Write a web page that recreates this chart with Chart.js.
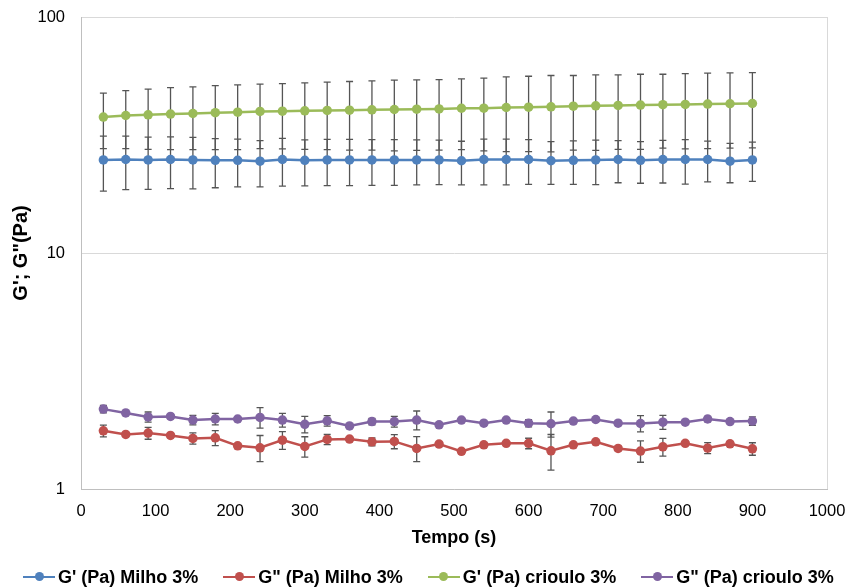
<!DOCTYPE html>
<html>
<head>
<meta charset="utf-8">
<script src="https://cdn.jsdelivr.net/npm/chart.js@4.4.1/dist/chart.umd.min.js"></script>
<style>
  html, body { margin: 0; padding: 0; background: #fff; }
  #wrap { position: relative; width: 850px; height: 587px; overflow: hidden; }
  #c { position: absolute; left: 0; top: 0; }
  #legend { position: absolute; left: 23px; top: 566px; height: 22px; display: flex; align-items: center;
            font-family: 'Liberation Sans', Arial, sans-serif; font-weight: bold; font-size: 18px; color: #000; white-space: nowrap; }
  .item { display: flex; align-items: center; margin-right: 25px; }
  .mk { position: relative; width: 32px; height: 3px; margin-right: 3px; }
  .mk .ln { position: absolute; left: 0; top: 0; width: 32px; height: 2.5px; }
  .mk .dt { position: absolute; left: 11.5px; top: -3.5px; width: 9px; height: 9px; border-radius: 50%; }
</style>
</head>
<body>
<div id="wrap">
  <canvas id="c" width="850" height="587"></canvas>
  <div id="legend"></div>
</div>
<script>
// ---- data ----
const times = [30, 60, 90, 120, 150, 180, 210, 240, 270, 300, 330, 360, 390, 420, 450,
               480, 510, 540, 570, 600, 630, 660, 690, 720, 750, 780, 810, 840, 870, 900];

const seriesLabels = ["G' (Pa) Milho 3%", 'G" (Pa) Milho 3%', "G' (Pa) crioulo 3%", 'G" (Pa) crioulo 3%'];

const gLinhaMilho = [24.8, 24.9, 24.8, 24.9, 24.8, 24.7, 24.7, 24.5, 24.9, 24.7, 24.8, 24.8, 24.8, 24.8, 24.8,
                     24.8, 24.6, 24.9, 24.9, 24.9, 24.6, 24.7, 24.8, 24.9, 24.7, 24.9, 24.9, 24.9, 24.5, 24.8];
const gLinhaMilhoErr = [6.5, 6.35, 6.2, 6.15, 6.1, 5.8, 5.65, 5.45, 5.7, 5.45, 5.5, 5.5, 5.45, 5.45, 5.35,
                        5.3, 5.15, 5.45, 5.45, 5.35, 5.05, 5.15, 5.3, 5.05, 4.95, 5.1, 5.3, 4.9, 4.65, 4.7];

const gDuasMilho = [1.764, 1.703, 1.725, 1.687, 1.638, 1.648, 1.524, 1.495, 1.611, 1.515, 1.622, 1.627, 1.585, 1.591, 1.486,
                    1.550, 1.444, 1.539, 1.561, 1.561, 1.452, 1.539, 1.585, 1.486, 1.448, 1.509, 1.561, 1.491, 1.554, 1.480];
const gDuasMilhoErr = [0.1, 0.03, 0.1, 0.03, 0.09, 0.12, 0.03, 0.19, 0.14, 0.15, 0.08, 0.03, 0.06, 0.11, 0.18,
                       0.03, 0.03, 0.03, 0.03, 0.08, 0.25, 0.03, 0.03, 0.03, 0.15, 0.13, 0.03, 0.08, 0.03, 0.09];

const gLinhaCrioulo = [37.65, 38.25, 38.5, 38.8, 39.0, 39.3, 39.5, 39.8, 39.9, 40.05, 40.2, 40.3, 40.45, 40.55, 40.7,
                       40.8, 41.05, 41.1, 41.35, 41.5, 41.65, 41.9, 42.05, 42.2, 42.35, 42.5, 42.6, 42.75, 42.9, 43.0];
const gLinhaCriouloErr = [9.95, 10.55, 11.0, 11.4, 11.6, 11.9, 12.1, 12.1, 12.3, 12.55, 12.8, 13.0, 13.15, 13.45, 13.5,
                          13.5, 13.65, 14.0, 14.45, 14.6, 14.85, 14.6, 14.85, 14.7, 14.85, 14.7, 15.0, 15.05, 15.1, 15.1];

const gDuasCrioulo = [2.18, 2.10, 2.02, 2.03, 1.96, 1.98, 1.98, 2.01, 1.96, 1.88, 1.945, 1.85, 1.93, 1.93, 1.96,
                      1.87, 1.96, 1.90, 1.96, 1.90, 1.89, 1.94, 1.97, 1.90, 1.895, 1.92, 1.92, 1.98, 1.93, 1.94];
const gDuasCriouloErr = [0.08, 0.03, 0.1, 0.03, 0.09, 0.11, 0.03, 0.2, 0.13, 0.15, 0.1, 0.03, 0.06, 0.1, 0.18,
                         0.03, 0.03, 0.03, 0.03, 0.065, 0.23, 0.03, 0.03, 0.03, 0.15, 0.13, 0.03, 0.05, 0.03, 0.08];

const yTicks = [1, 10, 100];
const xTitle = 'Tempo (s)';
const yTitle = 'G\'; G"(Pa)';

// ---- styling ----
const colors = ['#4F81BD', '#C0504D', '#9BBB59', '#8064A2'];
const values = [gLinhaMilho, gDuasMilho, gLinhaCrioulo, gDuasCrioulo];
const errors = [gLinhaMilhoErr, gDuasMilhoErr, gLinhaCriouloErr, gDuasCriouloErr];
const FONT = "'Liberation Sans', Arial, sans-serif";

const datasets = values.map((vals, i) => ({
  label: seriesLabels[i],
  data: times.map((t, j) => ({ x: t, y: vals[j] })),
  errors: errors[i],
  borderColor: colors[i],
  backgroundColor: colors[i],
  borderWidth: 2.5,
  pointRadius: 4.75,
  pointBorderWidth: 0,
  pointBackgroundColor: colors[i],
  tension: 0,
  fill: false
}));

const errorBars = {
  id: 'errorBars',
  beforeDatasetsDraw(chart) {
    const { ctx, scales: { x, y } } = chart;
    ctx.save();
    ctx.strokeStyle = '#555555';
    ctx.lineWidth = 1.3;
    chart.data.datasets.forEach((ds) => {
      ds.data.forEach((p, j) => {
        const e = ds.errors[j];
        const px = x.getPixelForValue(p.x);
        const yt = y.getPixelForValue(p.y + e);
        const yb = y.getPixelForValue(p.y - e);
        ctx.beginPath();
        ctx.moveTo(px, yt); ctx.lineTo(px, yb);
        ctx.moveTo(px - 3.5, yt); ctx.lineTo(px + 3.5, yt);
        ctx.moveTo(px - 3.5, yb); ctx.lineTo(px + 3.5, yb);
        ctx.stroke();
      });
    });
    ctx.restore();
  }
};

new Chart(document.getElementById('c'), {
  type: 'line',
  data: { datasets },
  plugins: [errorBars],
  options: {
    responsive: false,
    animation: false,
    devicePixelRatio: 1,
    layout: { padding: { left: 5, right: 23, top: 17, bottom: 34 } },
    plugins: { legend: { display: false }, tooltip: { enabled: false } },
    scales: {
      x: {
        type: 'linear', min: 0, max: 1000,
        ticks: { stepSize: 100, padding: 13, color: '#000', maxRotation: 0, font: { family: FONT, size: 16.5 },
                 callback: (v) => String(v) },
        grid: { drawTicks: false, lineWidth: 1,
                color: (c) => (c.tick && c.tick.value === 1000 ? '#d9d9d9' : 'rgba(0,0,0,0)') },
        border: { color: '#bfbfbf', width: 1 },
        title: { display: true, text: xTitle, color: '#000', font: { family: FONT, size: 18, weight: 'bold' }, padding: { top: 4, bottom: 4 } },
        afterFit(s) { s.height = 64; s.paddingLeft = 0; s.paddingRight = 0; }
      },
      y: {
        type: 'logarithmic', min: 1, max: 100,
        afterBuildTicks(s) { s.ticks = yTicks.map(v => ({ value: v })); },
        ticks: { padding: 16, color: '#000', font: { family: FONT, size: 16.5 }, callback: (v) => String(v) },
        grid: { drawTicks: false, color: '#d9d9d9', lineWidth: 1 },
        border: { color: '#bfbfbf', width: 1 },
        title: { display: true, text: yTitle, color: '#000', font: { family: FONT, size: 20, weight: 'bold' }, padding: { top: 4, bottom: 4 } },
        afterFit(s) { s.width = 76; s.paddingTop = 0; s.paddingBottom = 0; }
      }
    }
  }
});

// ---- legend (HTML) ----
const lg = document.getElementById('legend');
seriesLabels.forEach((lab, i) => {
  const it = document.createElement('div'); it.className = 'item';
  const mk = document.createElement('div'); mk.className = 'mk';
  const ln = document.createElement('div'); ln.className = 'ln'; ln.style.background = colors[i];
  const dt = document.createElement('div'); dt.className = 'dt'; dt.style.background = colors[i];
  mk.appendChild(ln); mk.appendChild(dt);
  const tx = document.createElement('span'); tx.textContent = lab;
  it.appendChild(mk); it.appendChild(tx);
  lg.appendChild(it);
});
</script>
</body>
</html>
